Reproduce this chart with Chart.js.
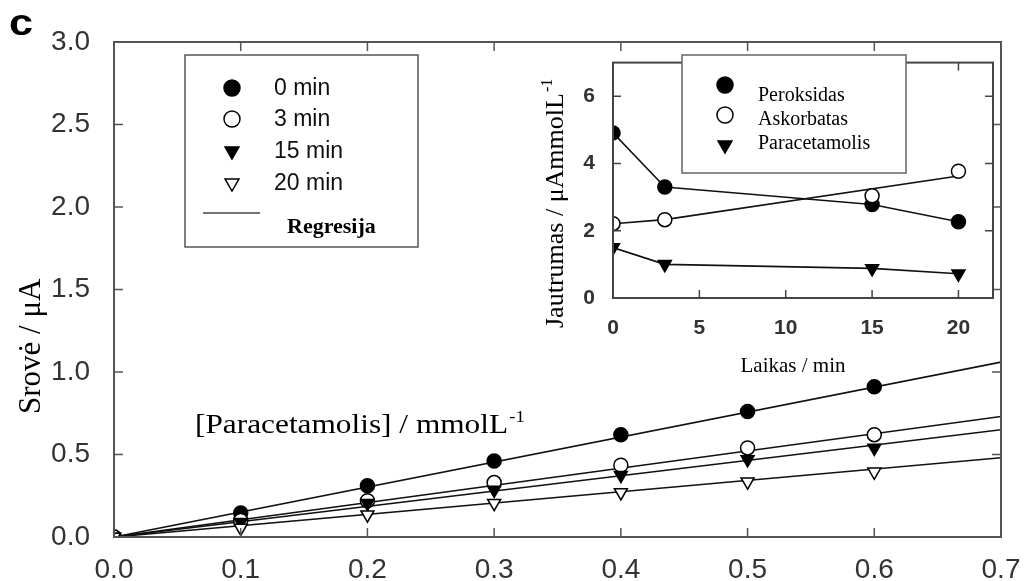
<!DOCTYPE html>
<html>
<head>
<meta charset="utf-8">
<script src="https://cdn.jsdelivr.net/npm/chart.js@4.4.0/dist/chart.umd.min.js"></script>
<style>
  html, body { margin: 0; padding: 0; background: #fff; }
  #wrap { position: relative; width: 1034px; height: 581px; overflow: hidden; }
  #mainChart { position: absolute; left: 0; top: 0; }
  #insetChart { position: absolute; left: 540px; top: 40px; }
</style>
</head>
<body>
<div id="wrap">
  <canvas id="mainChart" width="1034" height="581"></canvas>
  <canvas id="insetChart" width="470" height="345"></canvas>
</div>
<script>
// --- pagrindinis grafikas: srovė vs koncentracija ---
const concentrations = [0, 0.1, 0.2, 0.3, 0.4, 0.5, 0.6];
const current0min = [0, 0.145, 0.31, 0.46, 0.62, 0.76, 0.91];
const current3min = [0, 0.10, 0.22, 0.33, 0.435, 0.54, 0.62];
const current15min = [0, 0.09, 0.205, 0.285, 0.375, 0.47, 0.54];
const current20min = [0, 0.055, 0.135, 0.205, 0.27, 0.335, 0.395];
const regressionX = [0, 0.7];
const regression0min = [0, 1.06];
const regression3min = [0, 0.73];
const regression15min = [0, 0.65];
const regression20min = [0, 0.48];
const mainXTicks = [0, 0.1, 0.2, 0.3, 0.4, 0.5, 0.6, 0.7];
const mainYTicks = [0, 0.5, 1.0, 1.5, 2.0, 2.5, 3.0];
const mainLegend = ['0 min', '3 min', '15 min', '20 min'];

// --- intarpas: jautrumas vs laikas ---
const times = [0, 3, 15, 20];
const peroksidas = [4.91, 3.3, 2.78, 2.27];
const askorbatas = [2.21, 2.33, 3.04, 3.77];
const askorbatasFitX = [0, 3, 20];
const askorbatasFit = [2.21, 2.33, 3.63];
const paracetamolis = [1.5, 1.0, 0.88, 0.72];
const insetXTicks = [0, 5, 10, 15, 20];
const insetYTicks = [0, 2, 4, 6];
const insetLegend = ['Peroksidas', 'Askorbatas', 'Paracetamolis'];

const SANS = '"Liberation Sans", Arial, sans-serif';
const SERIF = '"Liberation Serif", "Times New Roman", serif';

const toPoints = (xs, ys) => xs.map((x, i) => ({ x: x, y: ys[i] }));

// žymeklių stiliai
const filledCircle = { pointStyle: 'circle', rotation: 0, backgroundColor: '#000', borderColor: '#000' };
const openCircle = { pointStyle: 'circle', rotation: 0, backgroundColor: '#fff', borderColor: '#000' };
const filledTri = { pointStyle: 'triangle', rotation: 180, backgroundColor: '#000', borderColor: '#000' };
const openTri = { pointStyle: 'triangle', rotation: 180, backgroundColor: '#fff', borderColor: '#000' };

function pointDataset(label, xs, ys, style, radius, order) {
  return {
    label: label,
    data: toPoints(xs, ys),
    showLine: false,
    pointStyle: style.pointStyle,
    rotation: style.rotation,
    pointBackgroundColor: style.backgroundColor,
    pointBorderColor: style.borderColor,
    pointBorderWidth: 1.5,
    pointRadius: radius,
    order: order,
  };
}

function lineDataset(xs, ys, order) {
  return {
    data: toPoints(xs, ys),
    showLine: true,
    borderColor: '#111',
    borderWidth: 1.6,
    pointRadius: 0,
    fill: false,
    order: order,
  };
}

function drawInwardTicks(chart, xTicks, yTicks, len, color) {
  const { ctx, chartArea: a } = chart;
  const x = chart.scales.x;
  const y = chart.scales.y;
  ctx.save();
  ctx.strokeStyle = color;
  ctx.lineWidth = 1.5;
  ctx.beginPath();
  xTicks.forEach((v) => {
    const px = x.getPixelForValue(v);
    if (px <= a.left + 2 || px >= a.right - 2) return;
    ctx.moveTo(px, a.bottom);
    ctx.lineTo(px, a.bottom - len);
    ctx.moveTo(px, a.top);
    ctx.lineTo(px, a.top + len);
  });
  yTicks.forEach((v) => {
    const py = y.getPixelForValue(v);
    if (py <= a.top + 2 || py >= a.bottom - 2) return;
    ctx.moveTo(a.left, py);
    ctx.lineTo(a.left + len, py);
    ctx.moveTo(a.right, py);
    ctx.lineTo(a.right - len, py);
  });
  ctx.stroke();
  ctx.lineWidth = 2;
  ctx.strokeRect(a.left, a.top, a.width, a.height);
  ctx.restore();
}

// tekstas su laipsnio rodikliu (gali būti ištemptas horizontaliai)
function drawWithSup(ctx, base, sup, x, y, size, stretch) {
  ctx.save();
  ctx.translate(x, y);
  ctx.scale(stretch || 1, 1);
  ctx.font = `${size}px ${SERIF}`;
  ctx.textAlign = 'left';
  ctx.textBaseline = 'alphabetic';
  ctx.fillText(base, 0, 0);
  const w = ctx.measureText(base).width;
  ctx.font = `${Math.round(size * 0.6)}px ${SERIF}`;
  ctx.fillText(sup, w + 1, -size * 0.42);
  ctx.restore();
}

function legendMarker(ctx, style, radius, x, y) {
  ctx.save();
  ctx.fillStyle = style.backgroundColor;
  ctx.strokeStyle = style.borderColor;
  ctx.lineWidth = 1.5;
  Chart.helpers.drawPoint(ctx, { pointStyle: style.pointStyle, rotation: style.rotation, radius: radius, borderWidth: 1.5 }, x, y);
  ctx.restore();
}

const mainDecor = {
  id: 'mainDecor',
  afterDatasetsDraw(chart) {
    const ctx = chart.ctx;
    drawInwardTicks(chart, mainXTicks, mainYTicks, 9, '#555');

    // legenda
    ctx.save();
    ctx.fillStyle = '#fff';
    ctx.strokeStyle = '#555';
    ctx.lineWidth = 1.5;
    ctx.fillRect(185, 55, 233, 192);
    ctx.strokeRect(185, 55, 233, 192);
    const styles = [filledCircle, openCircle, filledTri, openTri];
    const rows = [88, 119, 151, 183];
    styles.forEach((s, i) => {
      legendMarker(ctx, s, 8, 232, rows[i]);
      ctx.fillStyle = '#111';
      ctx.font = `23px ${SANS}`;
      ctx.textAlign = 'left';
      ctx.textBaseline = 'middle';
      ctx.fillText(mainLegend[i], 274, rows[i] + 1);
    });
    ctx.strokeStyle = '#444';
    ctx.lineWidth = 1.6;
    ctx.beginPath();
    ctx.moveTo(203, 213);
    ctx.lineTo(260, 213);
    ctx.stroke();
    ctx.fillStyle = '#000';
    ctx.font = `bold 22px ${SERIF}`;
    ctx.textBaseline = 'middle';
    ctx.fillText('Regresija', 287, 227);

    // "c"
    ctx.save();
    ctx.translate(9, 35);
    ctx.scale(1.2, 1);
    ctx.font = `bold 36px ${SANS}`;
    ctx.textBaseline = 'alphabetic';
    ctx.fillText('c', 0, 0);
    ctx.restore();

    // ašies pavadinimas
    ctx.save();
    ctx.translate(40, 414);
    ctx.rotate(-Math.PI / 2);
    ctx.font = `31px ${SERIF}`;
    ctx.textBaseline = 'alphabetic';
    ctx.fillText('Srovė / μA', 0, 0);
    ctx.restore();

    drawWithSup(ctx, '[Paracetamolis] / mmolL', '-1', 195, 433, 27, 1.16);
    ctx.restore();
  },
};

new Chart(document.getElementById('mainChart'), {
  type: 'scatter',
  data: {
    datasets: [
      pointDataset('0 min', concentrations, current0min, filledCircle, 7, 4),
      pointDataset('3 min', concentrations, current3min, openCircle, 7, 3),
      pointDataset('15 min', concentrations, current15min, filledTri, 7.5, 2),
      pointDataset('20 min', concentrations, current20min, openTri, 7.5, 1),
      lineDataset(regressionX, regression0min, 10),
      lineDataset(regressionX, regression3min, 10),
      lineDataset(regressionX, regression15min, 10),
      lineDataset(regressionX, regression20min, 10),
    ],
  },
  options: {
    responsive: false,
    animation: false,
    layout: { padding: { left: 0, top: 42, right: 33, bottom: 0 } },
    plugins: { legend: { display: false }, tooltip: { enabled: false } },
    scales: {
      x: {
        type: 'linear',
        min: 0,
        max: 0.7,
        grid: { display: false },
        border: { display: false },
        afterBuildTicks: (s) => { s.ticks = mainXTicks.map((v) => ({ value: v })); },
        afterFit: (s) => { s.height = 44; },
        ticks: {
          font: { family: SANS, size: 28 },
          color: '#333',
          padding: 8,
          maxRotation: 0,
          autoSkip: false,
          callback: (v) => Number(v).toFixed(1),
        },
      },
      y: {
        type: 'linear',
        min: 0,
        max: 3,
        grid: { display: false },
        border: { display: false },
        afterBuildTicks: (s) => { s.ticks = mainYTicks.map((v) => ({ value: v })); },
        afterFit: (s) => { s.width = 114; },
        ticks: {
          font: { family: SANS, size: 28 },
          color: '#333',
          padding: 16,
          autoSkip: false,
          callback: (v) => Number(v).toFixed(1),
        },
      },
    },
  },
  plugins: [mainDecor],
});

const insetDecor = {
  id: 'insetDecor',
  beforeDatasetsDraw(chart) {
    const { ctx, chartArea: a } = chart;
    ctx.save();
    ctx.fillStyle = '#fff';
    ctx.fillRect(a.left, a.top, a.width, a.height);
    ctx.restore();
  },
  afterDatasetsDraw(chart) {
    const ctx = chart.ctx;
    drawInwardTicks(chart, insetXTicks, insetYTicks, 8, '#444');

    ctx.save();
    ctx.fillStyle = '#fff';
    ctx.strokeStyle = '#666';
    ctx.lineWidth = 1.5;
    ctx.fillRect(142, 15, 224, 118);
    ctx.strokeRect(142, 15, 224, 118);
    const styles = [filledCircle, openCircle, filledTri];
    const marks = [45, 75, 105];
    const bases = [61, 85, 109];
    styles.forEach((s, i) => {
      legendMarker(ctx, s, 8, 185, marks[i]);
      ctx.fillStyle = '#000';
      ctx.font = `20px ${SERIF}`;
      ctx.textAlign = 'left';
      ctx.textBaseline = 'alphabetic';
      ctx.fillText(insetLegend[i], 218, bases[i]);
    });

    ctx.fillStyle = '#000';
    ctx.save();
    ctx.translate(23, 288);
    ctx.rotate(-Math.PI / 2);
    drawWithSup(ctx, 'Jautrumas / μAmmolL', '-1', 0, 0, 26);
    ctx.restore();

    ctx.font = `21px ${SERIF}`;
    ctx.textAlign = 'center';
    ctx.textBaseline = 'alphabetic';
    ctx.fillText('Laikas / min', 253, 332);
    ctx.restore();
  },
};

new Chart(document.getElementById('insetChart'), {
  type: 'scatter',
  data: {
    datasets: [
      pointDataset('Askorbatas', times, askorbatas, openCircle, 7, 0),
      Object.assign(pointDataset('Peroksidas', times, peroksidas, filledCircle, 7, 1), { showLine: true, borderColor: '#111', borderWidth: 1.6 }),
      Object.assign(pointDataset('Paracetamolis', times, paracetamolis, filledTri, 7.5, 1), { showLine: true, borderColor: '#111', borderWidth: 1.6 }),
      lineDataset(askorbatasFitX, askorbatasFit, 5),
    ],
  },
  options: {
    responsive: false,
    animation: false,
    layout: { padding: { left: 0, top: 11, right: 17, bottom: 0 } },
    plugins: { legend: { display: false }, tooltip: { enabled: false } },
    scales: {
      x: {
        type: 'linear',
        min: 0,
        max: 22,
        grid: { display: false },
        border: { display: false },
        afterBuildTicks: (s) => { s.ticks = insetXTicks.map((v) => ({ value: v })); },
        afterFit: (s) => { s.height = 87; },
        ticks: {
          font: { family: SANS, size: 21, weight: 'bold' },
          color: '#333',
          padding: 10,
          maxRotation: 0,
          autoSkip: false,
        },
      },
      y: {
        type: 'linear',
        min: 0,
        max: 7,
        grid: { display: false },
        border: { display: false },
        afterBuildTicks: (s) => { s.ticks = insetYTicks.map((v) => ({ value: v })); },
        afterFit: (s) => { s.width = 73; },
        ticks: {
          font: { family: SANS, size: 21, weight: 'bold' },
          color: '#333',
          padding: 10,
          autoSkip: false,
        },
      },
    },
  },
  plugins: [insetDecor],
});
</script>
</body>
</html>
